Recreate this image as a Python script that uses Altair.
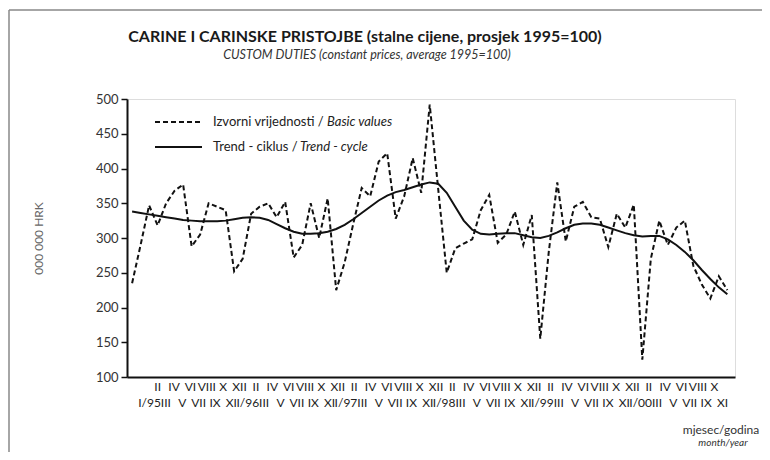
import json
import altair as alt
import pandas as pd

months = ["I", "II", "III", "IV", "V", "VI", "VII", "VIII", "IX", "X", "XI", "XII"]
years = ["95", "96", "97", "98", "99", "00"]

basic = [235, 290, 347, 318, 350, 368, 377, 288, 305, 350, 345, 340,
         252, 270, 335, 345, 350, 330, 352, 272, 290, 350, 300, 357,
         225, 265, 320, 372, 360, 410, 422, 328, 360, 415, 365, 492,
         370, 250, 285, 292, 298, 340, 362, 293, 305, 338, 290, 333,
         155, 280, 380, 295, 345, 352, 330, 328, 287, 335, 315, 348,
         125, 270, 325, 290, 315, 325, 260, 233, 213, 245, 225]

trend = [338, 336, 334, 332, 330, 328, 326, 325, 324, 324, 324, 325,
         327, 329, 330, 329, 326, 320, 314, 309, 306, 306, 307, 309,
         313, 319, 327, 336, 345, 354, 361, 366, 369, 373, 377, 380,
         378, 365, 345, 325, 312, 306, 305, 306, 307, 307, 304, 301,
         300, 303, 308, 314, 319, 321, 321, 319, 315, 311, 307, 304,
         302, 303, 303, 298, 290, 280, 268, 254, 241, 229, 219]

n = len(basic)
x_labels = []
for i in range(n):
    m = months[i % 12]
    if i % 12 == 0:
        m = m + "/" + years[i // 12]
    x_labels.append(m)

df = pd.DataFrame({"i": list(range(n)), "basic": basic, "trend": trend})

FONT = "Lato"

yenc = alt.Y("value:Q", scale=alt.Scale(domain=[100, 500], nice=False, zero=False),
             axis=alt.Axis(values=list(range(100, 501, 50)), title="000 000 HRK",
                           titleFont=FONT, titleFontSize=12, titleFontWeight="normal",
                           titleColor="#666666", titlePadding=50,
                           labelFont=FONT, labelFontSize=13, labelColor="#333333",
                           domainColor="#111111", domainWidth=2, tickColor="#111111",
                           tickWidth=1.5, tickSize=6, labelPadding=3, grid=False))

xdata = alt.X("i:Q", scale=alt.Scale(domain=[-0.6, 70.9], nice=False, zero=False), axis=None)

base = alt.Chart(df)
dashed = base.transform_calculate(value="datum.basic").mark_line(
    color="#111111", strokeWidth=2, strokeDash=[5, 3]).encode(x=xdata, y=yenc)
solid = base.transform_calculate(value="datum.trend").mark_line(
    color="#111111", strokeWidth=2).encode(x=xdata, y=yenc)
lines = alt.layer(dashed, solid)

rows = [[lab, ""] if i % 2 == 1 else ["", lab] for i, lab in enumerate(x_labels)]
label_expr = json.dumps(rows) + "[datum.value]"

labels_layer = base.mark_line(opacity=0).encode(
    x=alt.X("i:Q", scale=alt.Scale(domain=[-2.69, 71.59], nice=False, zero=False),
            axis=alt.Axis(orient="bottom", values=list(range(n)), labelExpr=label_expr,
                          labelOverlap=False, labelBound=False, labelFlush=False,
                          labelFont=FONT, labelFontSize=12, labelColor="#222222",
                          labelLineHeight=16, labelPadding=4, labelAlign="center",
                          labelBaseline="top", ticks=False, grid=False, title=None,
                          domainColor="#111111", domainWidth=2)),
    y=alt.value(0))

one = alt.Chart(pd.DataFrame({"k": [0]}))

def txt(s, x, y, size=12, weight="normal", style="normal", color="#222222", align="left"):
    return one.mark_text(text=s, font=FONT, fontSize=size, fontWeight=weight,
                         fontStyle=style, color=color, align=align,
                         baseline="middle").encode(x=alt.value(x), y=alt.value(y))

def rule(x, x2, y, y2, dash=None, color="#111111", width=2):
    kw = dict(color=color, strokeWidth=width)
    if dash:
        kw["strokeDash"] = dash
    return one.mark_rule(**kw).encode(x=alt.value(x), x2=alt.value(x2),
                                      y=alt.value(y), y2=alt.value(y2))

annotations = [
    # legend
    rule(28, 75, 23, 23, dash=[5, 3]),
    rule(28, 75, 48, 48),
    txt("Izvorni vrijednosti / ", 86, 23, size=13),
    txt("Basic values", 200, 23, size=13, style="italic"),
    txt("Trend - ciklus / ", 86, 48, size=13),
    txt("Trend - cycle", 173, 48, size=13, style="italic"),
    # titles
    txt("CARINE I CARINSKE PRISTOJBE (stalne cijene, prosjek 1995=100)", 238, -62,
        size=16, weight="bold", color="#1a1a1a", align="center"),
    txt("CUSTOM DUTIES (constant prices, average 1995=100)", 240, -44,
        size=12.5, style="italic", color="#333333", align="center"),
    # axis caption
    txt("mjesec/godina", 594, 331, size=12, color="#333333", align="center"),
    txt("month/year", 596, 344, size=10, style="italic", color="#333333", align="center"),
    # outer frame
    rule(-118, -118, -89, 353, color="#888888", width=1.5),
    rule(-118, 635, -89, -89, color="#888888", width=1.5),
]

chart = alt.layer(lines, labels_layer, *annotations).resolve_scale(x="independent").properties(
    width=608, height=278,
    padding={"left": 119, "top": 91, "right": 27, "bottom": 75},
    autosize=alt.AutoSizeParams(type="none"),
).configure_view(stroke="#666666", strokeWidth=1.5).configure(background="white")

chart.save("out.html", embed_options={"renderer": "svg", "actions": False})
